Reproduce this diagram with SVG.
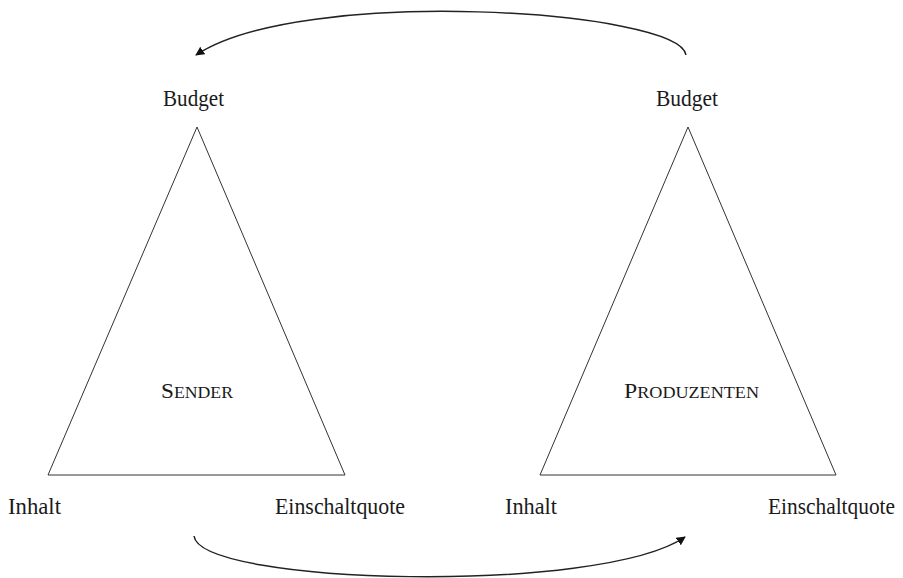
<svg xmlns="http://www.w3.org/2000/svg" width="903" height="578" viewBox="0 0 903 578">
<style>
.tri{fill:none;stroke:#333;stroke-width:1}
.lbl{font-family:"Liberation Serif","Times New Roman",serif;font-size:24px;fill:#1a1a1a}
.cap{font-family:"Liberation Serif","Times New Roman",serif;fill:#1a1a1a}
.arc{fill:none;stroke:#222;stroke-width:1.5}
</style>
<defs>
<marker id="ah" viewBox="0 0 10 10" refX="9" refY="5" markerWidth="9" markerHeight="9" markerUnits="userSpaceOnUse" orient="auto">
<path d="M0,0 L10,5 L0,10 z" fill="#111"/>
</marker>
</defs>
<g id="sender">
<polygon class="tri" points="197,127 48,475 345,475"/>
<text class="cap" x="161" y="398" textLength="72" lengthAdjust="spacingAndGlyphs"><tspan font-size="21">S</tspan><tspan font-size="16">ENDER</tspan></text>
<text class="lbl" x="163" y="106" textLength="61" lengthAdjust="spacingAndGlyphs">Budget</text>
<text class="lbl" x="8" y="514" textLength="53" lengthAdjust="spacingAndGlyphs">Inhalt</text>
<text class="lbl" x="275" y="514" textLength="130" lengthAdjust="spacingAndGlyphs">Einschaltquote</text>
</g>
<g id="produzenten">
<polygon class="tri" points="688,127 540,475 836,475"/>
<text class="cap" x="624" y="398" textLength="135" lengthAdjust="spacingAndGlyphs"><tspan font-size="21">P</tspan><tspan font-size="16">RODUZENTEN</tspan></text>
<text class="lbl" x="656" y="106" textLength="62" lengthAdjust="spacingAndGlyphs">Budget</text>
<text class="lbl" x="505" y="514" textLength="52" lengthAdjust="spacingAndGlyphs">Inhalt</text>
<text class="lbl" x="768" y="514" textLength="127" lengthAdjust="spacingAndGlyphs">Einschaltquote</text>
</g>
<g id="connectors">
<path class="arc" d="M686,55 C680,10 300,-15 196,55" marker-end="url(#ah)"/>
<path class="arc" d="M194,536 C200,585 600,595 685,537" marker-end="url(#ah)"/>
</g>
</svg>
